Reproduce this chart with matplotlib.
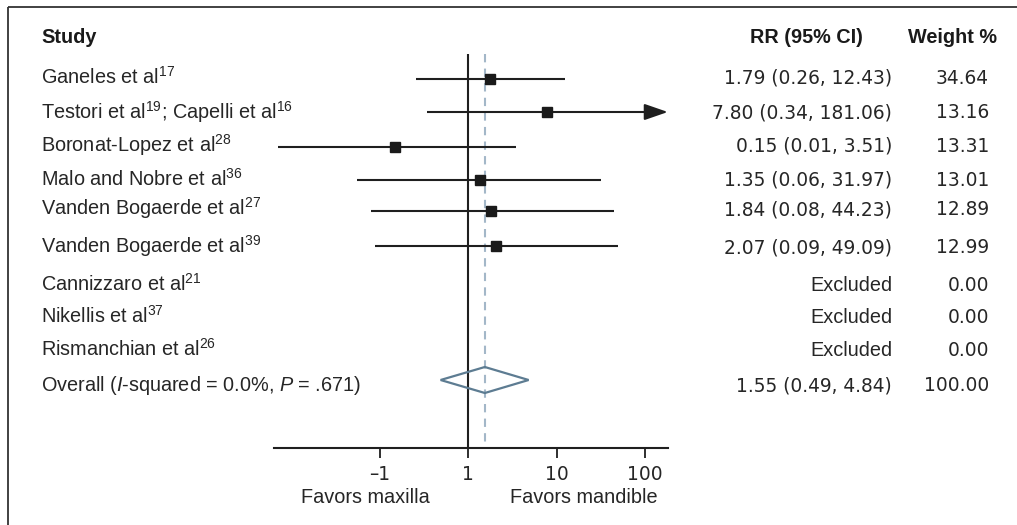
import numpy as np
import matplotlib
matplotlib.use("Agg")
import matplotlib.pyplot as plt
from matplotlib.patches import Polygon

# ---------------- data ----------------
studies = [
    "Ganeles et al$^{17}$",
    "Testori et al$^{19}$; Capelli et al$^{16}$",
    "Boronat-Lopez et al$^{28}$",
    "Malo and Nobre et al$^{36}$",
    "Vanden Bogaerde et al$^{27}$",
    "Vanden Bogaerde et al$^{39}$",
    "Cannizzaro et al$^{21}$",
    "Nikellis et al$^{37}$",
    "Rismanchian et al$^{26}$",
]
rr = [1.79, 7.80, 0.15, 1.35, 1.84, 2.07, np.nan, np.nan, np.nan]
ci_low = [0.26, 0.34, 0.0071, 0.056, 0.08, 0.09, np.nan, np.nan, np.nan]
ci_high = [12.43, 181.06, 3.51, 31.97, 44.23, 49.09, np.nan, np.nan, np.nan]
weights = [34.64, 13.16, 13.31, 13.01, 12.89, 12.99, 0.00, 0.00, 0.00]
overall_label = "Overall ($I$-squared = 0.0%, $P$ = .671)"
overall_rr, overall_low, overall_high, overall_weight = 1.55, 0.49, 4.84, 100.00
tick_values = [0.1, 1, 10, 100]
tick_labels = ["–1", "1", "10", "100"]

# ---------------- style / layout ----------------
FONT = "Liberation Sans"
NUMFONT = ["DejaVu Sans"]
plt.rcParams["font.family"] = [FONT, "DejaVu Sans"]
plt.rcParams["mathtext.fontset"] = "custom"
plt.rcParams["mathtext.rm"] = FONT
plt.rcParams["mathtext.it"] = FONT + ":italic"
plt.rcParams["mathtext.bf"] = FONT + ":bold"
FS = 14.3
NFS = 13.4
TXT = "#262626"
LINE = "#1f1f1f"
DIAMOND = "#5d7c92"
DASH = "#a3b7c8"

W, H = 1017, 525
fig = plt.figure(figsize=(W / 100, H / 100), dpi=100)

# background axes in pixel coordinates for text columns and frame
bg = fig.add_axes([0, 0, 1, 1])
bg.set_xlim(0, W)
bg.set_ylim(H, 0)
bg.axis("off")

mark_y = [79, 112, 147, 180, 211, 246, 285, 317, 350]
text_base = [83.5, 118.5, 152, 186, 215, 253, 291, 323, 356]
overall_y, overall_base = 380, 391
header_base = 43
axis_y = 448
ref_top = 54

# frame (top and left edges only visible)
bg.plot([8, W + 5], [7, 7], color="#333333", lw=1.3, solid_capstyle="butt")
bg.plot([8, 8], [7, H + 5], color="#333333", lw=1.3, solid_capstyle="butt")

# headers
bg.text(41, header_base, "Study", fontsize=FS, fontweight="bold", color="#1a1a1a", va="baseline")
bg.text(863, header_base, "RR (95% CI)", fontsize=FS, fontweight="bold", color="#1a1a1a",
        va="baseline", ha="right")
bg.text(997, header_base, "Weight %", fontsize=FS, fontweight="bold", color="#1a1a1a",
        va="baseline", ha="right")

for name, r, lo, hi, w, yb in zip(studies, rr, ci_low, ci_high, weights, text_base):
    bg.text(41, yb, name, fontsize=FS, color=TXT, va="baseline")
    if np.isnan(r):
        bg.text(892, yb, "Excluded", fontsize=FS, color=TXT, va="baseline", ha="right")
    else:
        bg.text(892, yb, f"{r:.2f} ({lo:.2f}, {hi:.2f})", fontsize=NFS, family=NUMFONT,
                color=TXT, va="baseline", ha="right")
    bg.text(989, yb, f"{w:.2f}", fontsize=NFS, family=NUMFONT, color=TXT,
            va="baseline", ha="right")

bg.text(41, overall_base, overall_label, fontsize=FS, color=TXT, va="baseline")
bg.text(892, overall_base, f"{overall_rr:.2f} ({overall_low:.2f}, {overall_high:.2f})",
        fontsize=NFS, family=NUMFONT, color=TXT, va="baseline", ha="right")
bg.text(989, overall_base, f"{overall_weight:.2f}", fontsize=NFS, family=NUMFONT, color=TXT,
        va="baseline", ha="right")

bg.text(365, 503, "Favors maxilla", fontsize=FS, color=TXT, va="baseline", ha="center")
bg.text(584, 503, "Favors mandible", fontsize=FS, color=TXT, va="baseline", ha="center")

# forest axes (log scale)
px_one, px_dec = 468.0, 88.5
x_left_px, x_right_px = 274, 668
xmin = 10 ** ((x_left_px - px_one) / px_dec)
xmax = 10 ** ((x_right_px - px_one) / px_dec)
ax = fig.add_axes([x_left_px / W, 0, (x_right_px - x_left_px) / W, 1])
ax.patch.set_alpha(0)
ax.set_xscale("log")
ax.set_xlim(xmin, xmax)
ax.set_ylim(H, 0)
for s in ["top", "right", "left"]:
    ax.spines[s].set_visible(False)
ax.spines["bottom"].set_position(("data", axis_y))
ax.spines["bottom"].set_linewidth(1.5)
ax.spines["bottom"].set_color(LINE)
ax.set_yticks([])
ax.set_xticks(tick_values)
ax.set_xticklabels(tick_labels, family=NUMFONT, fontsize=NFS)
ax.xaxis.set_minor_locator(matplotlib.ticker.NullLocator())
ax.tick_params(axis="x", direction="out", length=7.5, width=1.3, color=LINE,
               labelcolor=TXT, pad=5)

# reference lines
ax.vlines(1, ref_top, axis_y, color=LINE, lw=1.5, zorder=2)
ax.vlines(overall_rr, ref_top, axis_y, color=DASH, lw=1.5, linestyles=(0, (4, 3)), zorder=1)

# study CIs and point estimates
for r, lo, hi, y in zip(rr, ci_low, ci_high, mark_y):
    if np.isnan(r):
        continue
    if hi >= xmax * 0.98:
        ax.hlines(y, lo, hi * 0.85, color=LINE, lw=1.5, zorder=3)
        ax.annotate("", xy=(hi, y), xytext=(hi * 0.7, y),
                    arrowprops=dict(arrowstyle="-|>,head_length=1.3,head_width=0.45",
                                    color=LINE, lw=1.5, shrinkA=0, shrinkB=0,
                                    mutation_scale=11), zorder=3)
    else:
        ax.hlines(y, lo, hi, color=LINE, lw=1.5, zorder=3)
    ax.plot([r], [y], marker="s", markersize=7.6, color="#1a1a1a", zorder=4)

# overall diamond
half_h = 13
diamond = Polygon([[overall_low, overall_y], [overall_rr, overall_y - half_h],
                   [overall_high, overall_y], [overall_rr, overall_y + half_h]],
                  closed=True, fill=False, edgecolor=DIAMOND, lw=1.6, zorder=5)
ax.add_patch(diamond)

fig.savefig("out.png", dpi=100)
